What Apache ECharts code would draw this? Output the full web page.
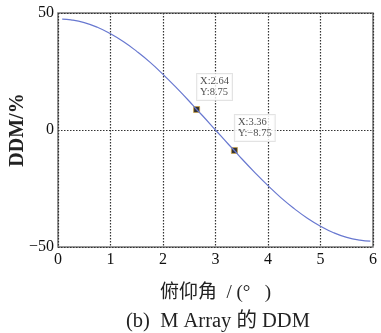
<!DOCTYPE html>
<html>
<head>
<meta charset="utf-8">
<script src="https://cdn.jsdelivr.net/npm/echarts@6/dist/echarts.min.js"></script>
<style>
  html, body { margin: 0; padding: 0; background: #fff; }
  #chart { width: 381px; height: 333px; }
</style>
</head>
<body>
<div id="chart"></div>
<script>
// elevation angle (deg) and DDM (%)
var angles = [0.08, 0.25, 0.5, 0.75, 1, 1.25, 1.5, 1.75, 2, 2.25, 2.5, 2.64, 2.75, 3,
    3.25, 3.36, 3.5, 3.75, 4, 4.25, 4.5, 4.75, 5, 5.25, 5.5, 5.75, 5.95];
var ddm = [47.4, 47.1, 45.9, 43.9, 41.1, 37.7, 33.6, 29.0, 23.8, 18.2, 12.3, 8.75, 6.2, 0,
    -6.2, -8.75, -12.3, -18.2, -23.8, -29.0, -33.6, -37.7, -41.1, -43.9, -45.9, -47.1, -47.5];
var markX = [2.64, 3.36];
var markY = [8.75, -8.75];
var xTicks = [0, 1, 2, 3, 4, 5, 6];
var yTicks = [-50, 0, 50];

var serif = '"Liberation Serif", "DejaVu Serif", serif';
var cjk = '"Liberation Serif", "Noto Sans CJK SC", serif';

var chart = echarts.init(document.getElementById('chart'));

var linePts = angles.map(function (a, i) { return [a, ddm[i]]; });
var markPts = markX.map(function (a, i) { return [a, markY[i]]; });

function minus(v, d) {
    var s = Math.abs(v).toFixed(d);
    return v < 0 ? '\u2212' + s : s;
}

option = {
    animation: false,
    grid: {
        left: 58,
        right: 8,
        top: 13,
        bottom: 86,
        outerBoundsMode: 'none',
        containLabel: false,
        show: true,
        borderColor: '#777',
        borderWidth: 1.5
    },
    title: {
        text: '(b)  M Array 的 DDM',
        left: 121,
        top: 306,
        textStyle: { fontFamily: cjk, fontSize: 20.5, fontWeight: 'normal', color: '#222' }
    },
    xAxis: {
        type: 'value',
        min: xTicks[0],
        max: xTicks[xTicks.length - 1],
        interval: 1,
        name: '俯仰角  / (°   )',
        nameLocation: 'middle',
        nameGap: 37,
        nameMoveOverlap: false,
        nameTextStyle: { fontFamily: cjk, fontSize: 19, color: '#222' },
        axisLine: { show: false },
        axisTick: { show: false },
        axisLabel: { fontFamily: serif, fontSize: 16, color: '#111', margin: 5 },
        splitLine: { show: true, lineStyle: { color: '#333', type: [1.5, 1.5], width: 1.2 } }
    },
    yAxis: {
        type: 'value',
        min: yTicks[0],
        max: yTicks[yTicks.length - 1],
        interval: 50,
        name: 'DDM/%',
        nameLocation: 'middle',
        nameGap: 30,
        nameMoveOverlap: false,
        nameTextStyle: { fontFamily: serif, fontSize: 20, fontWeight: 'bold', color: '#222' },
        axisLine: { show: false },
        axisTick: { show: false },
        axisLabel: {
            fontFamily: serif, fontSize: 16, color: '#111', margin: 4,
            formatter: function (v) { return minus(v, 0); }
        },
        splitLine: { show: true, lineStyle: { color: '#333', type: [1.5, 1.5], width: 1.2 } }
    },
    series: [
        {
            type: 'line',
            data: linePts,
            smooth: true,
            showSymbol: false,
            lineStyle: { color: '#6878d0', width: 1.2 }
        },
        {
            type: 'scatter',
            data: markPts,
            symbol: 'rect',
            symbolSize: 6,
            itemStyle: { color: '#000', borderColor: '#c9a24a', borderWidth: 1 },
            label: {
                show: true,
                position: [4, -32],
                formatter: function (p) {
                    return 'X:' + minus(p.value[0], 2) + '\nY:' + minus(p.value[1], 2);
                },
                fontFamily: serif,
                fontSize: 10.5,
                lineHeight: 11,
                color: '#222',
                backgroundColor: '#fff',
                borderColor: '#dcdcdc',
                borderWidth: 1,
                padding: [2, 3]
            }
        }
    ]
};

chart.setOption(option);
</script>
</body>
</html>
